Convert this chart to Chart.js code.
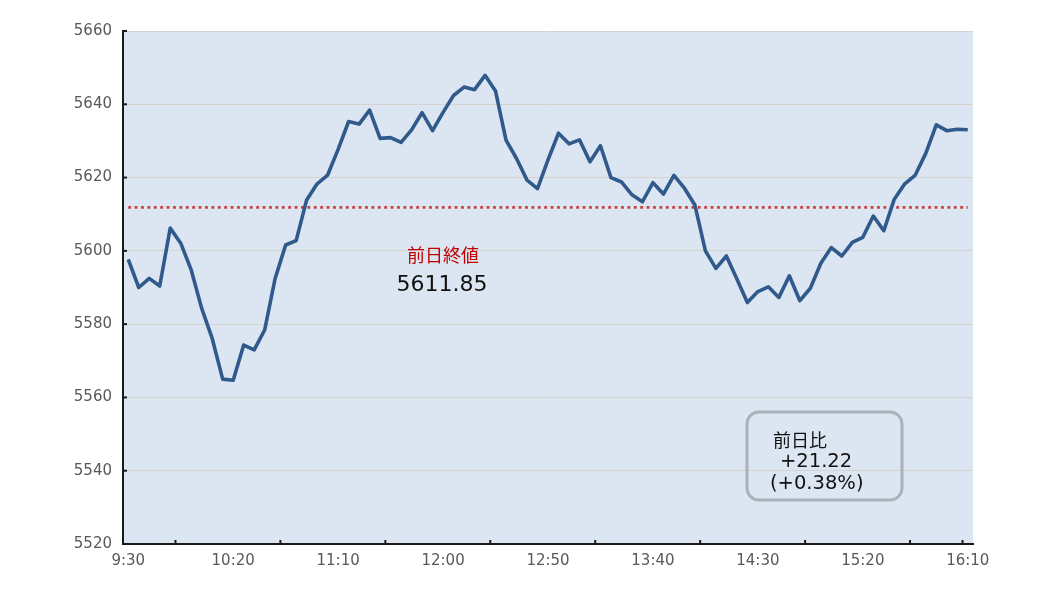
<!DOCTYPE html>
<html>
<head>
<meta charset="utf-8">
<script src="https://cdn.jsdelivr.net/npm/chart.js@4/dist/chart.umd.min.js"></script>
<style>
  html, body { margin: 0; padding: 0; background: #ffffff; }
  canvas { display: block; }
</style>
</head>
<body>
<canvas id="indexChart" width="1038" height="598"></canvas>
<script>
// 5-minute bars, 9:30 - 16:10
const times = [
    '9:30', '9:35', '9:40', '9:45', '9:50', '9:55',
    '10:00', '10:05', '10:10', '10:15', '10:20', '10:25', '10:30', '10:35', '10:40', '10:45', '10:50', '10:55',
    '11:00', '11:05', '11:10', '11:15', '11:20', '11:25', '11:30', '11:35', '11:40', '11:45', '11:50', '11:55',
    '12:00', '12:05', '12:10', '12:15', '12:20', '12:25', '12:30', '12:35', '12:40', '12:45', '12:50', '12:55',
    '13:00', '13:05', '13:10', '13:15', '13:20', '13:25', '13:30', '13:35', '13:40', '13:45', '13:50', '13:55',
    '14:00', '14:05', '14:10', '14:15', '14:20', '14:25', '14:30', '14:35', '14:40', '14:45', '14:50', '14:55',
    '15:00', '15:05', '15:10', '15:15', '15:20', '15:25', '15:30', '15:35', '15:40', '15:45', '15:50', '15:55',
    '16:00', '16:05', '16:10'
];

const closes = [
    5597.7, 5590.0, 5592.5, 5590.4, 5606.2, 5602.1,
    5594.8, 5584.3, 5576.1, 5565.0, 5564.7, 5574.3, 5573.0, 5578.4, 5592.5, 5601.6, 5602.8, 5613.9,
    5618.3, 5620.7, 5627.7, 5635.3, 5634.6, 5638.4, 5630.7, 5630.9, 5629.6, 5633.0, 5637.7, 5632.8,
    5637.8, 5642.4, 5644.7, 5644.0, 5647.9, 5643.6, 5630.2, 5625.2, 5619.3, 5617.0, 5624.8, 5632.1,
    5629.2, 5630.3, 5624.3, 5628.7, 5620.0, 5618.8, 5615.3, 5613.4, 5618.6, 5615.5, 5620.6, 5617.1,
    5612.5, 5600.0, 5595.2, 5598.6, 5592.3, 5585.9, 5588.9, 5590.2, 5587.3, 5593.2, 5586.4, 5589.8,
    5596.6, 5600.9, 5598.6, 5602.3, 5603.7, 5609.5, 5605.5, 5614.1, 5618.3, 5620.7, 5626.6, 5634.4,
    5632.8, 5633.2, 5633.07
];

const prevClose = 5611.85;

const xTickLabels = ['9:30', '10:20', '11:10', '12:00', '12:50', '13:40', '14:30', '15:20', '16:10'];
const yMin = 5520;
const yMax = 5660;
const yStep = 20;

const FONT_LATIN = '"DejaVu Sans", "Noto Sans CJK JP", sans-serif';

// background, inner tick marks and the two text notes
const plotDecor = {
    id: 'plotDecor',
    beforeDraw(chart) {
        const { ctx, chartArea: a } = chart;
        ctx.save();
        ctx.fillStyle = '#dce6f2';
        ctx.fillRect(a.left, a.top, a.right - a.left, a.bottom - a.top);
        ctx.restore();
    },
    afterDraw(chart) {
        const { ctx, chartArea: a } = chart;
        const xs = chart.scales.x;
        const ys = chart.scales.y;
        ctx.save();

        // x tick marks sit between categories, pointing up
        ctx.strokeStyle = '#1a1a1a';
        ctx.lineWidth = 2;
        const marks = [];
        for (let k = 5; k <= times.length - 1; k += 10) marks.push(k);
        marks.push(times.length - 1);
        marks.forEach(k => {
            const px = (xs.getPixelForValue(k - 1) + xs.getPixelForValue(k)) / 2;
            ctx.beginPath();
            ctx.moveTo(px, a.bottom);
            ctx.lineTo(px, a.bottom - 4);
            ctx.stroke();
        });

        // y tick marks, pointing right
        ys.ticks.forEach(t => {
            const py = ys.getPixelForValue(t.value);
            ctx.beginPath();
            ctx.moveTo(a.left, py);
            ctx.lineTo(a.left + 4, py);
            ctx.stroke();
        });

        // previous close note
        const noteX = xs.getPixelForValue(times.indexOf('12:00'));
        ctx.textAlign = 'center';
        ctx.textBaseline = 'middle';
        ctx.fillStyle = '#c00000';
        ctx.font = '18px "Noto Sans CJK JP", sans-serif';
        ctx.fillText('前日終値', noteX, 255);
        ctx.fillStyle = '#111111';
        ctx.font = '22px ' + FONT_LATIN;
        ctx.fillText(prevClose.toFixed(2), noteX - 1, 285);

        // change box
        const last = closes[closes.length - 1];
        const diff = last - prevClose;
        const pct = diff / prevClose * 100;
        const bx = 747, by = 412, bw = 155, bh = 88, r = 12;
        ctx.strokeStyle = '#aab1b9';
        ctx.lineWidth = 3;
        ctx.beginPath();
        ctx.roundRect(bx, by, bw, bh, r);
        ctx.stroke();

        ctx.textAlign = 'left';
        ctx.fillStyle = '#111111';
        ctx.font = '18px "Noto Sans CJK JP", sans-serif';
        ctx.fillText('前日比', 773, 440);
        ctx.font = '19.5px ' + FONT_LATIN;
        ctx.fillText('+' + diff.toFixed(2), 780, 462);
        ctx.fillText('(+' + pct.toFixed(2) + '%)', 770, 484);

        ctx.restore();
    }
};

const ctx = document.getElementById('indexChart').getContext('2d');
new Chart(ctx, {
    type: 'line',
    data: {
        labels: times,
        datasets: [{
            label: 'index',
            data: closes,
            borderColor: '#30598c',
            borderWidth: 3.6,
            borderJoinStyle: 'round',
            pointRadius: 0,
            tension: 0,
            fill: false
        }, {
            label: 'prev close',
            data: [{ x: times[0], y: prevClose }, { x: times[times.length - 1], y: prevClose }],
            borderColor: '#c8403c',
            borderWidth: 2.8,
            borderDash: [2.8, 3.6],
            pointRadius: 0,
            tension: 0,
            fill: false
        }]
    },
    options: {
        responsive: false,
        devicePixelRatio: 1,
        animation: false,
        layout: {
            padding: { left: 0, right: 65, top: 31, bottom: 24 }
        },
        scales: {
            x: {
                offset: true,
                grid: { display: false, drawTicks: false },
                border: { display: true, color: '#1a1a1a', width: 2 },
                ticks: {
                    autoSkip: false,
                    maxRotation: 0,
                    minRotation: 0,
                    padding: 8,
                    color: '#595959',
                    font: { family: FONT_LATIN, size: 15 },
                    callback: function(value, index) {
                        return xTickLabels.includes(times[index]) ? times[index] : '';
                    }
                },
                afterFit: function(scale) { scale.height = 30; }
            },
            y: {
                min: yMin,
                max: yMax,
                grid: { color: '#d6d3cf', lineWidth: 1, drawTicks: false },
                border: { display: true, color: '#1a1a1a', width: 2 },
                ticks: {
                    stepSize: yStep,
                    padding: 11,
                    color: '#595959',
                    font: { family: FONT_LATIN, size: 15 },
                    callback: function(value) { return String(value); }
                },
                afterFit: function(scale) { scale.width = 123; }
            }
        },
        plugins: {
            legend: { display: false },
            tooltip: { enabled: false }
        }
    },
    plugins: [plotDecor]
});
</script>
</body>
</html>
